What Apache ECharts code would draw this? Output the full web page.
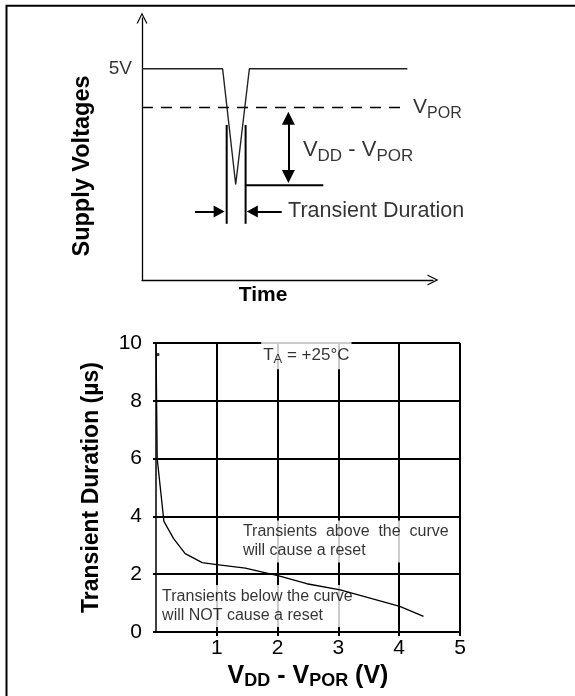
<!DOCTYPE html>
<html>
<head>
<meta charset="utf-8">
<script src="https://cdn.jsdelivr.net/npm/echarts@6/dist/echarts.min.js"></script>
<style>
html, body { margin: 0; padding: 0; background: #fff; }
#chart { width: 575px; height: 696px; }
</style>
</head>
<body>
<div id="chart"></div>
<script>
// lower chart: transient duration vs. V_DD - V_POR
var deltaV   = [0, 0.02, 0.13, 0.29, 0.48, 0.76, 1.00, 1.47, 2.02, 2.48, 3.03, 4.01, 4.40];
var duration = [10, 6.0, 3.83, 3.23, 2.71, 2.40, 2.33, 2.21, 1.94, 1.67, 1.46, 0.89, 0.54];
var xTicks = [0, 1, 2, 3, 4, 5];
var yTicks = [0, 2, 4, 6, 8, 10];
var strayDot = [[0.03, 9.6]];

// upper sketch: supply dip, time 0..10 (arb.), volts 0..6.2
var sketchT = [0, 2.77, 3.22, 3.69, 9.12];
var sketchV = [5, 5, 2.26, 5, 5];
var vporLevel = 4.08;
var vporEnd = 8.97;
var edgeT = [2.91, 3.56];      // transient duration marker lines
var edgeV = [3.67, 1.33];
var floorT = [3.56, 6.23];     // line at bottom of dip
var floorV = 2.24;
var deltaT = 5.03;             // V_DD - V_POR double arrow (arrow centres)
var deltaV2 = [3.83, 2.45];
var widthV = 1.62;             // transient duration arrows
var arrowL = [1.82, 2.65];
var arrowR = [4.80, 3.79];

var FONT = 'Liberation Sans, Arial, Helvetica, sans-serif';
var chart = echarts.init(document.getElementById('chart'));

var chevron = 'path://M0,12 L6,0 L12,12 L10.6,12 L6,2.8 L1.4,12 Z';

function pts(xs, ys) {
    return xs.map(function (x, i) { return [x, ys[i]]; });
}

function seg(data, width, extra) {
    var s = {
        type: 'line', xAxisIndex: 0, yAxisIndex: 0, data: data,
        symbol: 'none', silent: true, z: 3,
        lineStyle: { color: '#000', width: width }
    };
    return Object.assign(s, extra || {});
}

function note(x, y, text, pos, dist, style) {
    return {
        value: [x, y],
        label: Object.assign({
            show: true, position: pos, distance: dist, formatter: text,
            color: '#000', fontFamily: FONT
        }, style)
    };
}

var subRich = function (big, small, pad, bold) {
    return {
        v: { fontSize: big, fontFamily: FONT, color: '#000', fontWeight: bold ? 'bold' : 'normal' },
        s: { fontSize: small, fontFamily: FONT, color: '#000', fontWeight: bold ? 'bold' : 'normal', padding: [pad, 0, 0, 0] }
    };
};

var option = {
    animation: false,
    backgroundColor: '#fff',
    graphic: [{
        type: 'rect', silent: true,
        shape: { x: 6.5, y: 5.7, width: 700, height: 800 },
        style: { fill: null, stroke: '#000', lineWidth: 2 }
    }],
    grid: [
        { left: 142, top: 18, width: 291, height: 262 },
        { left: 156, top: 343, width: 304, height: 289 }
    ],
    xAxis: [{
        gridIndex: 0, type: 'value', min: 0, max: 10,
        axisLine: { show: true, symbol: ['none', chevron], symbolSize: [13, 11],
            lineStyle: { color: '#000', width: 1.3 } },
        axisTick: { show: false }, axisLabel: { show: false }, splitLine: { show: false },
        name: 'Time', nameLocation: 'middle', nameGap: 5,
        nameTextStyle: { fontFamily: FONT, fontSize: 21, fontWeight: 'bold', color: '#000',
            padding: [0, 49, 0, 0] }
    }, {
        gridIndex: 1, type: 'value', min: xTicks[0], max: xTicks[xTicks.length - 1], interval: 1,
        axisLine: { show: true, lineStyle: { color: '#000', width: 2 } },
        axisTick: { show: true, length: 4, lineStyle: { color: '#000', width: 2 } },
        axisLabel: { fontFamily: FONT, fontSize: 21, color: '#000', margin: 6, showMinLabel: false },
        splitLine: { show: true, showMinLine: false, lineStyle: { color: '#000', width: 2 } },
        name: '{v|V}{s|DD}{v| - V}{s|POR}{v| (V)}', nameLocation: 'middle', nameGap: 30,
        nameTextStyle: { rich: subRich(25, 18, 10, true) }
    }],
    yAxis: [{
        gridIndex: 0, type: 'value', min: 0, max: 6.2,
        axisLine: { show: true, symbol: ['none', chevron], symbolSize: [13, 11],
            lineStyle: { color: '#000', width: 1.3 } },
        axisTick: { show: false }, axisLabel: { show: false }, splitLine: { show: false },
        name: 'Supply Voltages', nameLocation: 'middle', nameGap: 47, nameRotate: 90,
        nameTextStyle: { fontFamily: FONT, fontSize: 23.5, fontWeight: 'bold', color: '#000',
            padding: [0, 34, 0, 0] }
    }, {
        gridIndex: 1, type: 'value', min: yTicks[0], max: yTicks[yTicks.length - 1], interval: 2,
        axisLine: { show: true, lineStyle: { color: '#000', width: 1.5 } },
        axisTick: { show: true, length: 3, lineStyle: { color: '#000', width: 2 } },
        axisLabel: { fontFamily: FONT, fontSize: 21, color: '#000', margin: 14 },
        splitLine: { show: true, lineStyle: { color: '#000', width: 2 } },
        name: 'Transient Duration (µs)', nameLocation: 'middle', nameGap: 53, nameRotate: 90,
        nameTextStyle: { fontFamily: FONT, fontSize: 23, fontWeight: 'bold', color: '#000' }
    }],
    series: [
        // sketch
        seg(pts(sketchT, sketchV), 1.5, { lineStyle: { color: '#222', width: 1.4 } }),
        seg([[0, vporLevel], [vporEnd, vporLevel]], 1.5,
            { lineStyle: { color: '#000', width: 1.5, type: [11, 8] } }),
        seg([[edgeT[0], edgeV[0]], [edgeT[0], edgeV[1]]], 2),
        seg([[edgeT[1], edgeV[0]], [edgeT[1], edgeV[1]]], 2),
        seg([[floorT[0], floorV], [floorT[1], floorV]], 2),
        seg([], 2, {
            markLine: {
                silent: true, symbol: ['triangle', 'triangle'], symbolSize: [13, 13],
                label: { show: false },
                lineStyle: { color: '#000', width: 2, type: 'solid' },
                data: [
                    [{ coord: [deltaT, deltaV2[0]] }, { coord: [deltaT, deltaV2[1]] }],
                    [{ coord: [arrowL[0], widthV], symbol: 'none' }, { coord: [arrowL[1], widthV], symbolSize: [12, 11] }],
                    [{ coord: [arrowR[0], widthV], symbol: 'none' }, { coord: [arrowR[1], widthV], symbolSize: [12, 11] }]
                ]
            }
        }),
        {
            type: 'scatter', xAxisIndex: 0, yAxisIndex: 0, symbolSize: 0, silent: true,
            data: [
                note(0, 5, '5V', 'left', 10, { fontSize: 19 }),
                note(vporEnd, vporLevel, '{v|V}{s|POR}', 'right', 10, { rich: subRich(21, 16, 12) }),
                note(5.53, 3.08, '{v|V}{s|DD}{v| - V}{s|POR}', 'right', 0, { rich: subRich(22, 17, 12) }),
                note(5.02, widthV, 'Transient Duration', 'right', 0, { fontSize: 21.5 })
            ]
        },
        // lower chart
        {
            type: 'line', xAxisIndex: 1, yAxisIndex: 1, z: 4, silent: true,
            data: pts(deltaV, duration), symbol: 'none',
            lineStyle: { color: '#000', width: 1.3 }
        },
        {
            type: 'scatter', xAxisIndex: 1, yAxisIndex: 1, z: 4, silent: true,
            data: strayDot, symbol: 'rect', symbolSize: 3, itemStyle: { color: '#000' }
        },
        {
            type: 'scatter', xAxisIndex: 1, yAxisIndex: 1, symbolSize: 0, silent: true, z: 2,
            data: [
                note(1.73, 9.58, 'T{s|A}{v| = +25°C}', 'right', 0, {
                    fontSize: 17, backgroundColor: '#fff', padding: [3, 2, 3, 2],
                    rich: { v: { fontSize: 17, fontFamily: FONT, color: '#000' },
                            s: { fontSize: 13, fontFamily: FONT, color: '#000', padding: [9, 0, 0, 0] } }
                }),
                note(1.43, 3.13, 'Transients  above  the  curve\nwill cause a reset', 'right', 0, {
                    fontSize: 16, lineHeight: 19, align: 'left', backgroundColor: '#fff', padding: [2, 2, 2, 0]
                }),
                note(0.10, 0.90, 'Transients below the curve\nwill NOT cause a reset', 'right', 0, {
                    fontSize: 16, lineHeight: 19, align: 'left', backgroundColor: '#fff', padding: [2, 2, 2, 0]
                })
            ]
        }
    ]
};

chart.setOption(option);
</script>
</body>
</html>
